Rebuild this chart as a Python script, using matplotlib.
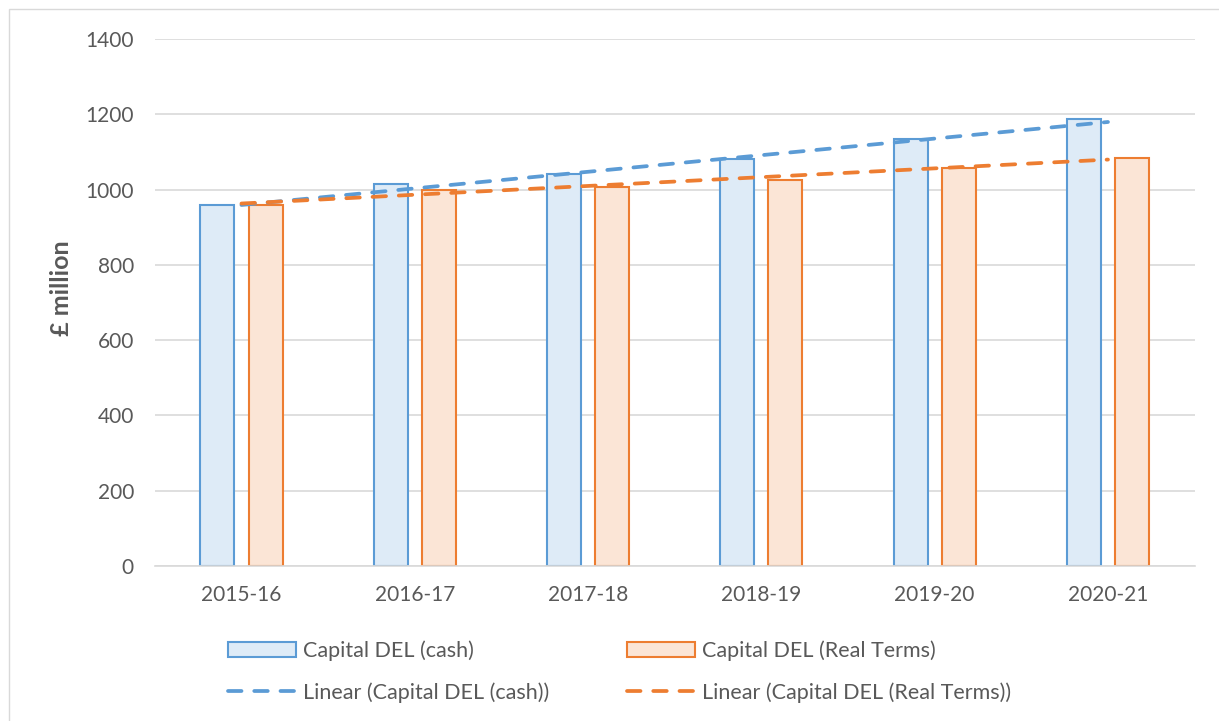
import matplotlib.pyplot as plt
import numpy as np

plt.rcParams['font.family'] = ['Lato', 'DejaVu Sans']

years = ["2015-16", "2016-17", "2017-18", "2018-19", "2019-20", "2020-21"]
cash = [958, 1015, 1040, 1081, 1134, 1187]
real_terms = [958, 999, 1006, 1024, 1057, 1083]

BLUE = "#5B9BD5"
BLUE_FILL = "#DEEBF7"
ORANGE = "#ED7D31"
ORANGE_FILL = "#FBE5D6"
GREY = "#595959"

fig = plt.figure(figsize=(12.19, 7.21), dpi=100)
ax = fig.add_axes([0.127, 0.215, 0.853, 0.731])

x = np.arange(len(years))
w = 0.196
off = 0.139
b1 = ax.bar(x - off, cash, w, color=BLUE_FILL, edgecolor=BLUE, linewidth=1.5,
            label="Capital DEL (cash)", zorder=2)
b2 = ax.bar(x + off, real_terms, w, color=ORANGE_FILL, edgecolor=ORANGE, linewidth=1.5,
            label="Capital DEL (Real Terms)", zorder=2)

# linear trendlines, fitted like Excel does
trends = []
for vals, col, lab in [(cash, BLUE, "Linear (Capital DEL (cash))"),
                       (real_terms, ORANGE, "Linear (Capital DEL (Real Terms))")]:
    k, b = np.polyfit(x, vals, 1)
    ln, = ax.plot(x, k * x + b, color=col, linewidth=2.7, dashes=(3.6, 3.4),
                  dash_capstyle='round', label=lab, zorder=3)
    trends.append(ln)

ax.set_ylim(0, 1400)
ax.set_yticks(range(0, 1401, 200))
ax.set_xlim(-0.5, len(years) - 0.5)
ax.set_xticks(x)
ax.set_xticklabels(years)
ax.grid(axis='y', color='#D9D9D9', linewidth=1.2, zorder=0)
ax.set_axisbelow(True)
for s in ['top', 'right', 'left']:
    ax.spines[s].set_visible(False)
ax.spines['bottom'].set_color('#D9D9D9')
ax.spines['bottom'].set_linewidth(1.2)
ax.tick_params(axis='both', length=0, labelsize=15, colors=GREY)
ax.tick_params(axis='x', pad=14)
ax.tick_params(axis='y', pad=15)
ax.set_ylabel("£ million", fontsize=18, fontweight='bold', color=GREY)
ax.yaxis.set_label_coords(-0.079, 0.527)

# legend fills column by column
handles = [b1, trends[0], b2, trends[1]]
labels = [h.get_label() for h in handles]
fig.legend(handles, labels, ncol=2, loc='upper left', bbox_to_anchor=(0.180, 0.124),
           frameon=False, fontsize=15.5, labelcolor=GREY, handlelength=3.15,
           handletextpad=0.33, labelspacing=1.0, columnspacing=3.6, borderaxespad=0)

fig.patches.append(plt.Rectangle((0.007, -0.01), 1.0, 0.998, transform=fig.transFigure,
                                 fill=False, edgecolor='#D9D9D9', linewidth=1))

fig.savefig("out.png", dpi=100)
